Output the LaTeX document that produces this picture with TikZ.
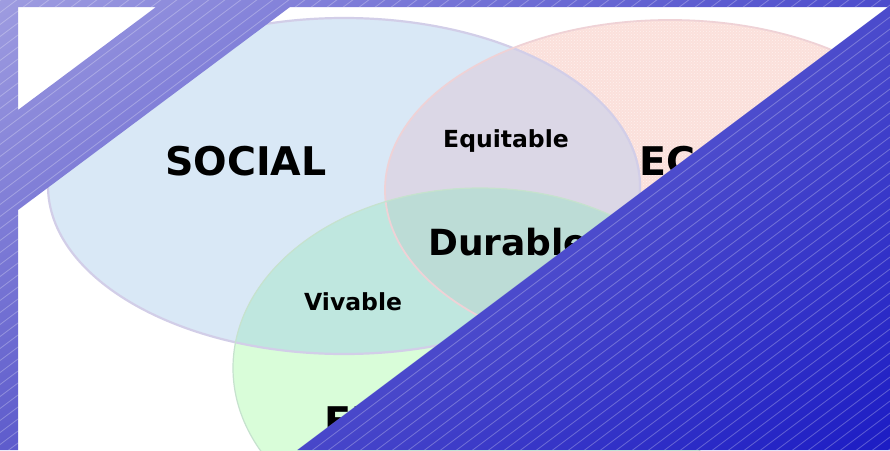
\documentclass[tikz,border=0pt]{standalone}
\usepackage{fontspec}
\usetikzlibrary{shadings,patterns}
\newfontfamily\labelfont{DejaVu Sans}
\definecolor{socC}{HTML}{D9E8F6}
\definecolor{ecoC}{HTML}{FBE0DB}
\definecolor{ecoDot}{HTML}{FEF0EE}
\definecolor{socecoC}{HTML}{DBD7E6}
\definecolor{envC}{HTML}{D9FDD9}
\definecolor{socenvC}{HTML}{BFE7DF}
\definecolor{ecoenvC}{HTML}{C6E6D6}
\definecolor{allC}{HTML}{BCDCD6}
\definecolor{socL}{HTML}{D2CEE8}
\definecolor{ecoL}{HTML}{EFD2D6}
\definecolor{envL}{HTML}{C6E2CE}
\definecolor{ovUL}{HTML}{9E9CE0}
\definecolor{ovUR}{HTML}{4C4CCC}
\definecolor{ovLL}{HTML}{5E5CCC}
\definecolor{ovLR}{HTML}{1C1CC4}
% the three circles of the diagram
\def\socE{(344,186) ellipse [x radius=296pt, y radius=168pt]}
\def\ecoE{(670,190) ellipse [x radius=285pt, y radius=170pt]}
\def\envE{(480,368) ellipse [x radius=247pt, y radius=180pt]}
% the framing bands laid over the diagram
\def\bands{(0,0) rectangle (890,7)
  (0,7) rectangle (18,450)
  (156,7) -- (290,7) -- (18,210) -- (18,110) -- cycle
  (297.3,450) -- (888,7) -- (890,7) -- (890,450) -- cycle}
% thin diagonal hatch lines across the bands
\def\hatch{\foreach \c in {0,12,...,1140}
  {(0,\c) -- (890,{\c-667.5}) -- (890,{\c-666.5}) -- (0,{\c+1}) -- cycle}}
\begin{document}
\begin{tikzpicture}[x=1pt,y=-1pt,
  lbl/.style={inner sep=0pt, anchor=base west, text=black},
  big/.style={lbl, font=\labelfont\bfseries\fontsize{39.5}{40}\selectfont},
  mid/.style={lbl, font=\labelfont\bfseries\fontsize{36}{36}\selectfont},
  small/.style={lbl, font=\labelfont\bfseries\fontsize{23.5}{24}\selectfont}]
\useasboundingbox (0,0) rectangle (890,450);
\fill[white] (0,0) rectangle (890,450);

% circle areas and their overlaps
\fill[socC] \socE;
\fill[ecoC] \ecoE;
\fill[pattern=crosshatch dots, pattern color=ecoDot] \ecoE;
\begin{scope}
  \clip \socE;
  \fill[socecoC] \ecoE;
\end{scope}
\fill[envC] \envE;
\begin{scope}
  \clip \envE;
  \fill[socenvC] \socE;
  \fill[ecoenvC] \ecoE;
  \clip \socE;
  \fill[allC] \ecoE;
\end{scope}
\draw[socL, line width=2.2pt] \socE;
\draw[ecoL, line width=1.8pt] \ecoE;
\draw[envL, line width=1.2pt] \envE;

% labels
\node[big]   (social) at (165,175) {SOCIAL};
\node[big]   (econ)   at (639,175) {ECONOMIQUE};
\node[big]   (envir)  at (324,435) {ENVIRONNEMENT};
\node[small] (equit)  at (443,147) {Equitable};
\node[mid]   (dur)    at (428,255) {Durable};
\node[small] (viv)    at (304,310) {Vivable};

% gradient bands with faint light hatch lines
\begin{scope}
  \clip \bands;
  \shade[upper left=ovUL, upper right=ovUR, lower left=ovLL, lower right=ovLR]
    (0,0) rectangle (890,450);
  \fill[white, opacity=0.28] \hatch;
\end{scope}
\end{tikzpicture}
\end{document}
